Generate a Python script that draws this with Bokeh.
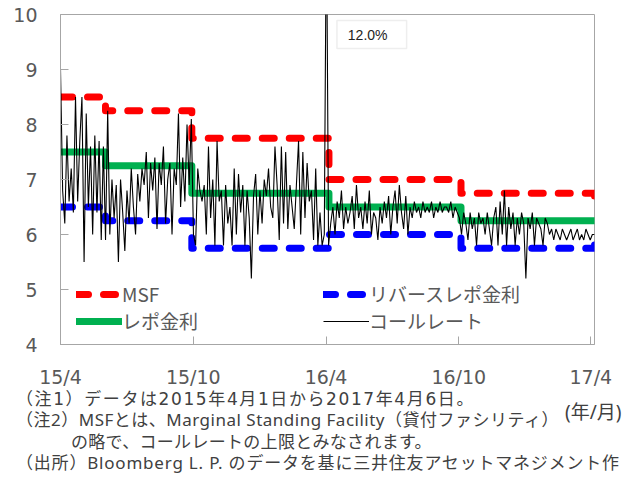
import html
import pandas as pd
from bokeh.plotting import figure
from bokeh.layouts import column
from bokeh.models import Range1d, FixedTicker, Legend, LegendItem, Label, BoxAnnotation, Div
from bokeh.embed import file_html
from bokeh.resources import INLINE

# ---- data ----
rate_dates = ["2015-04-01", "2015-06-02", "2015-09-29", "2016-04-05", "2016-10-04", "2017-04-06"]
msf = [8.5, 8.25, 7.75, 7.0, 6.75, 6.5]
repo = [7.5, 7.25, 6.75, 6.5, 6.25, 6.25]
reverse_repo = [6.5, 6.25, 5.75, 6.0, 5.75, 6.0]

call_start = "2015-04-01"
call_end = "2017-04-06"
call_rate = [
    # 2015/4 - 2015/6
    9.0, 6.8, 6.2, 7.8, 6.6, 7.2, 6.4, 8.5, 6.6, 7.7, 8.5, 5.5, 8.2, 6.5, 7.6, 6.0, 7.8, 6.4, 7.7, 5.9, 7.6,
    # 2015/6 - 2015/9
    5.9, 8.25, 6.0, 7.0, 6.3, 6.9, 5.5, 7.0, 6.4, 5.7, 6.8, 6.2, 7.2, 6.5, 6.0, 7.1, 6.6, 7.2, 6.9, 7.5,
    6.3, 7.3, 6.8, 7.4, 6.1, 7.3, 6.9, 7.6, 6.2, 7.0, 7.3, 6.0, 7.2, 6.9, 8.2, 6.5, 7.4, 6.6, 8.0, 6.9, 8.1,
    # 2015/10 - 2016/3
    6.0, 5.8, 7.2, 6.8, 6.6, 6.9, 6.0, 7.6, 6.3, 7.0, 5.8, 7.7, 6.6, 6.8, 5.8, 6.9, 6.2, 6.5, 5.8, 7.2,
    6.0, 7.1, 6.4, 6.9, 5.8, 6.8, 6.3, 5.2, 6.7, 7.1, 6.0, 6.8, 6.2, 7.0, 6.7, 7.2, 6.5, 6.3, 7.6, 6.9,
    5.9, 7.6, 6.2, 7.5, 6.1, 6.9, 6.5, 6.1, 6.9, 7.7, 6.0, 7.5, 6.3, 7.3, 6.6, 6.8, 5.9, 7.2, 5.8, 6.4,
    5.8, 6.0,
    # 2016/3 year end
    12.0,
    # 2016/4 - 2016/9
    5.8, 6.2, 6.5, 6.0, 6.6, 6.3, 6.8, 6.1, 6.5, 6.2, 6.4, 6.7, 6.1, 6.9, 6.3, 6.5, 6.1, 6.6, 6.2, 6.8,
    6.0, 6.4, 6.3, 5.9, 6.5, 6.2, 6.6, 6.3, 6.7, 6.0, 6.5, 6.8, 6.2, 6.9, 6.4, 6.1, 6.7, 6.0, 6.5, 6.3,
    6.6, 6.4, 6.5, 6.3, 6.6, 6.4, 6.5, 6.4, 6.6, 6.3, 6.5, 6.4, 6.6, 6.4, 6.5, 6.5, 6.4, 6.6, 6.3, 6.5, 6.4,
    # 2016/10 - 2017/4
    6.3, 6.0, 6.4, 6.2, 5.9, 6.4, 6.1, 6.3, 5.8, 6.4, 6.2, 6.3, 6.0, 6.4, 6.1, 5.8, 6.3, 6.5, 5.8, 6.6,
    6.0, 6.8, 5.8, 6.5, 6.1, 6.4, 5.8, 6.3, 6.0, 6.4, 6.2, 5.2, 6.3, 6.1, 6.4, 5.8, 6.3, 6.2, 6.1, 5.8,
    6.3, 6.2, 6.0, 6.1, 5.9, 6.1, 6.0, 5.9, 6.1, 6.0, 5.9, 6.0, 6.1, 5.9, 6.0, 6.1, 5.9, 6.0, 5.9, 6.1,
    6.0, 5.9, 6.0, 6.0,
]

tick_dates = ["2015-04-01", "2015-10-01", "2016-04-01", "2016-10-01", "2017-04-01"]
tick_labels = ["15/4", "15/10", "16/4", "16/10", "17/4"]
y_ticks = [4, 5, 6, 7, 8, 9, 10]

series_names = ["MSF", "レポ金利", "リバースレポ金利", "コールレート"]
spike_label = "12.0%"
notes = [
    "（注1）データは2015年4月1日から2017年4月6日。",
    "（注2）MSFとは、Marginal Standing Facility（貸付ファシリティ）",
    "の略で、コールレートの上限とみなされます。",
    "（出所）Bloomberg L. P. のデータを基に三井住友アセットマネジメント作",
]
unit_label = "(年/月)"

# ---- helpers ----
def ms(d):
    return pd.Timestamp(d).value // 10**6

rate_x = [ms(d) for d in rate_dates]
call_x = [int(t.value // 10**6) for t in pd.date_range(call_start, call_end, periods=len(call_rate))]
tick_x = [ms(d) for d in tick_dates]

JP = "'Noto Sans CJK JP'"
NUM = "'DejaVu Sans'"
GRAY = "#A6A6A6"

W, H = 623, 487
P_H = 390

p = figure(width=W, height=P_H, output_backend="svg", toolbar_location=None,
           x_range=Range1d(ms(call_start), ms(call_end)), y_range=Range1d(4, 10),
           min_border_left=60, min_border_right=29, min_border_top=14, min_border_bottom=45)
p.background_fill_color = "white"
p.border_fill_color = "white"
p.outline_line_color = GRAY
p.xgrid.visible = False
p.ygrid.visible = False

for ax in (p.xaxis[0], p.yaxis[0]):
    ax.axis_line_color = GRAY
    ax.major_tick_line_color = GRAY
    ax.major_tick_in = 8
    ax.major_tick_out = 0
    ax.minor_tick_line_color = None
    ax.major_label_text_color = "#595959"
    ax.major_label_text_font = NUM
    ax.major_label_text_font_size = "19px"

p.xaxis.ticker = FixedTicker(ticks=tick_x)
p.xaxis.major_label_overrides = {t: l for t, l in zip(tick_x, tick_labels)}
p.xaxis.major_label_standoff = 21
p.yaxis.ticker = FixedTicker(ticks=y_ticks)
p.yaxis.major_label_standoff = 23

r_msf = p.step(rate_x, msf, mode="after", line_color="#FF0000", line_width=7,
               line_dash="12 15", line_cap="round", line_join="round")
r_rev = p.step(rate_x, reverse_repo, mode="after", line_color="#0000FF", line_width=7,
               line_dash="12 15", line_cap="round", line_join="round")
r_repo = p.step(rate_x, repo, mode="after", line_color="#00B050", line_width=7,
                line_cap="round", line_join="round")
r_call = p.line(call_x, call_rate, line_color="black", line_width=1.1)

def make_legend(items, loc):
    return Legend(items=items, location=loc, orientation="vertical",
                  border_line_color=None, background_fill_alpha=0, padding=0, margin=0,
                  spacing=0, glyph_width=46, glyph_height=26, label_standoff=0,
                  label_text_font=JP, label_text_font_size="19px", label_text_color="#595959",
                  label_height=26)

p.add_layout(make_legend([LegendItem(label=series_names[0], renderers=[r_msf]),
                          LegendItem(label=series_names[1], renderers=[r_repo])], (16, 10)))
p.add_layout(make_legend([LegendItem(label=series_names[2], renderers=[r_rev]),
                          LegendItem(label=series_names[3], renderers=[r_call])], (263, 10)))

# 12.0% callout box
p.add_layout(BoxAnnotation(left=ms("2016-04-16"), right=ms("2016-07-21"), top=9.89, bottom=9.38,
                           fill_color="white", fill_alpha=1, line_color="#C8C8C8", line_width=1.5))
p.add_layout(Label(x=ms("2016-05-01"), y=9.635, text=spike_label, text_baseline="middle",
                   text_font="'Liberation Sans'", text_font_size="14px", text_color="#222222"))

# ---- notes below the chart (one HTML text block) ----
note_style = [  # (indent, font-family, letter-spacing)
    (0, "'DejaVu Sans','Noto Sans CJK JP'", 1.6),
    (0, "'Noto Sans','Noto Sans CJK JP'", 0.5),
    (55, "'Noto Sans','Noto Sans CJK JP'", 0.3),
    (0, "'Noto Sans','Noto Sans CJK JP'", 0.8),
]
spans = []
for (indent, ff, ls), t in zip(note_style, notes):
    spans.append(f'<span style="padding-left:{indent}px;letter-spacing:{ls}px;font-family:{ff};">'
                 f'{html.escape(t)}</span>')
block = (
    '<div style="position:absolute;left:16px;top:-1.25px;white-space:nowrap;line-height:20.5px;'
    'font-size:17px;color:#404040;">' + "<br>".join(spans) + "</div>"
)
unit = (
    '<div style="position:absolute;left:565px;top:12px;white-space:nowrap;line-height:20px;'
    "font-size:19px;font-family:'Noto Sans','Noto Sans CJK JP';color:#404040;\">"
    + html.escape(unit_label) + "</div>"
)
notes_html = '<div style="position:relative;width:623px;height:96px;">' + block + unit + "</div>"
notes_div = Div(text=notes_html, width=W, height=H - P_H - 1,
                styles={"margin": "0px", "padding": "0px", "background-color": "white"})

open("out.html", "w").write(file_html(column(p, notes_div, spacing=0), INLINE))
